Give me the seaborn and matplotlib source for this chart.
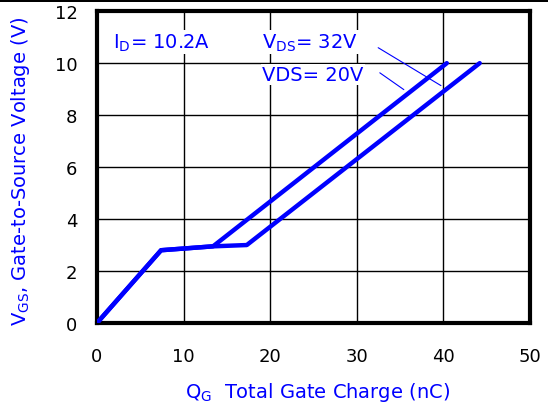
import pandas as pd
import seaborn as sns
import matplotlib.pyplot as plt

# gate charge curves
qg_20v = [0, 7.4, 13.4, 40.4]
vgs_20v = [0, 2.8, 2.95, 10]
qg_32v = [0, 7.4, 13.4, 17.3, 44.2]
vgs_32v = [0, 2.8, 2.95, 3.0, 10]

x_ticks = [0, 10, 20, 30, 40, 50]
y_ticks = [0, 2, 4, 6, 8, 10, 12]

df = pd.concat([
    pd.DataFrame({'Qg': qg_20v, 'Vgs': vgs_20v, 'Vds': '20V'}),
    pd.DataFrame({'Qg': qg_32v, 'Vgs': vgs_32v, 'Vds': '32V'}),
], ignore_index=True)

sns.set_style('white')
plt.rcParams['font.family'] = ['DejaVu Sans']
plt.rcParams['mathtext.fontset'] = 'custom'
plt.rcParams['mathtext.rm'] = 'DejaVu Sans'

blue = '#0000ff'

fig = plt.figure(figsize=(5.48, 4.06), dpi=100)
ax = fig.add_axes([0.177, 0.202, 0.790, 0.768])

sns.lineplot(data=df, x='Qg', y='Vgs', hue='Vds', palette=[blue, blue],
             sort=False, estimator=None, linewidth=3.2, legend=False, ax=ax, zorder=3)

ax.set_xlim(0, 50)
ax.set_ylim(0, 12)
ax.set_xticks(x_ticks)
ax.set_yticks(y_ticks)
ax.grid(True, color='black', linewidth=1)
ax.tick_params(axis='both', length=0, labelsize=13, colors='black')
ax.tick_params(axis='x', pad=17)
ax.tick_params(axis='y', pad=14)
for s in ax.spines.values():
    s.set_linewidth(3)
    s.set_color('black')

ax.set_xlabel(r'$\mathregular{Q_G}$  Total Gate Charge (nC)', color=blue, fontsize=14, va='baseline')
ax.xaxis.set_label_coords(0.51, -0.236)
ax.set_ylabel(r'$\mathregular{V_{GS}}$, Gate-to-Source Voltage (V)', color=blue, fontsize=14)
ax.yaxis.set_label_coords(-0.15, 0.49)

# annotations
box = dict(facecolor='white', edgecolor='none', pad=1)
ax.text(1.85, 10.6, r'$\mathregular{I_D}$= 10.2A', color=blue, fontsize=14, va='baseline',
        bbox=box, zorder=4)
ax.text(19.05, 10.6, r'$\mathregular{V_{DS}}$= 32V', color=blue, fontsize=14, va='baseline',
        bbox=box, zorder=4)
ax.text(19.05, 9.35, 'VDS= 20V', color=blue, fontsize=14, va='baseline',
        bbox=box, zorder=4)
ax.annotate('', xy=(40.0, 9.08), xytext=(32.2, 10.65),
            arrowprops=dict(arrowstyle='-', color=blue, lw=0.8), zorder=4)
ax.annotate('', xy=(35.7, 8.92), xytext=(32.4, 9.69),
            arrowprops=dict(arrowstyle='-', color=blue, lw=0.8), zorder=4)

# black strip at the top of the page
fig.add_artist(plt.Rectangle((0, 0.992), 1, 0.008, transform=fig.transFigure,
                             facecolor='black', edgecolor='none'))

fig.savefig('out.png', dpi=100)
